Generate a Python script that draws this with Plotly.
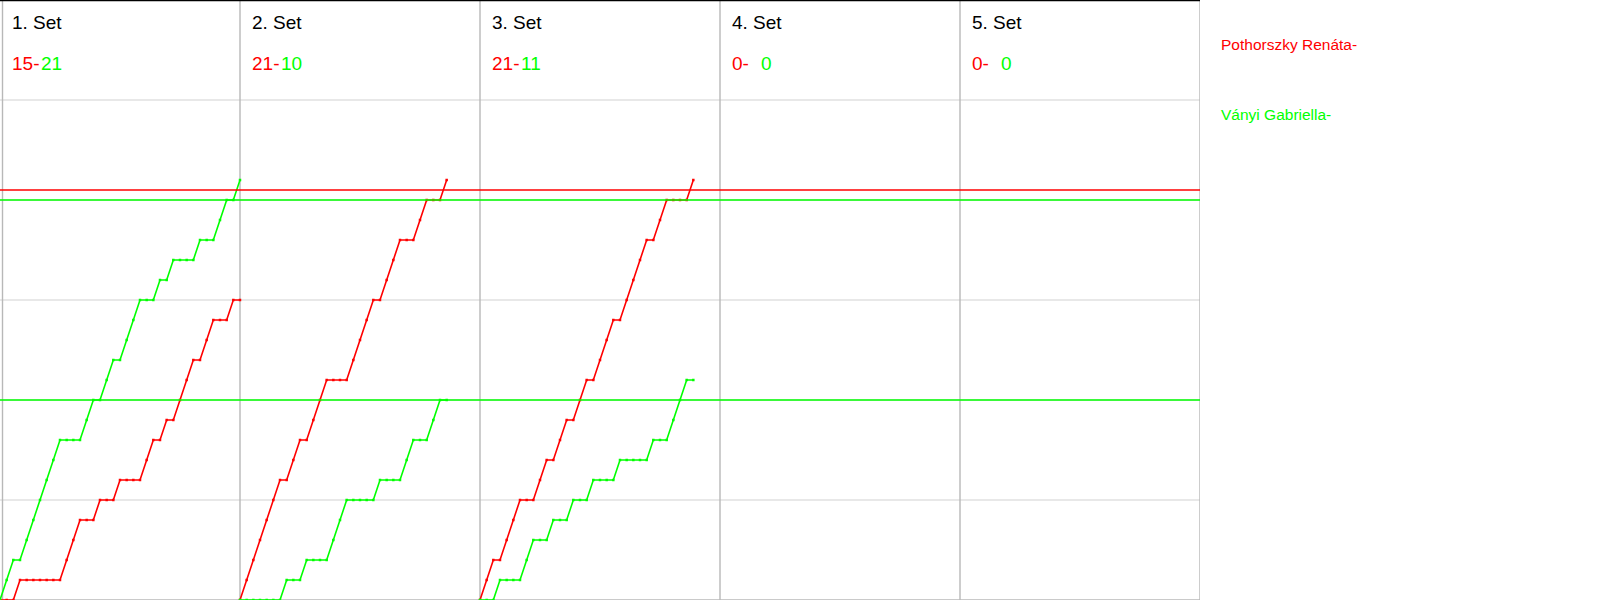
import plotly.graph_objects as go

# ---- data ----
set_titles = ["1. Set", "2. Set", "3. Set", "4. Set", "5. Set"]
red_final = ["15", "21", "21", "0", "0"]
green_final = ["21", "10", "11", "0", "0"]
player_red = "Pothorszky Renáta-"
player_green = "Ványi Gabriella-"

# cumulative score after each rally (index 0 = start of set)
set1_red = [0, 0, 0, 1, 1, 1, 1, 1, 1, 1, 2, 3, 4, 4, 4, 5, 5, 5, 6, 6, 6, 6, 7, 8, 8, 9, 9, 10, 11, 12, 12, 13, 14, 14, 14, 15, 15]
set1_green = [0, 1, 2, 2, 3, 4, 5, 6, 7, 8, 8, 8, 8, 9, 10, 10, 11, 12, 12, 13, 14, 15, 15, 15, 16, 16, 17, 17, 17, 17, 18, 18, 18, 19, 20, 20, 21]
set2_red = [0, 1, 2, 3, 4, 5, 6, 6, 7, 8, 8, 9, 10, 11, 11, 11, 11, 12, 13, 14, 15, 15, 16, 17, 18, 18, 18, 19, 20, 20, 20, 21]
set2_green = [0, 0, 0, 0, 0, 0, 0, 1, 1, 1, 2, 2, 2, 2, 3, 4, 5, 5, 5, 5, 5, 6, 6, 6, 6, 7, 8, 8, 8, 9, 10, 10]
set3_red = [0, 1, 2, 2, 3, 4, 5, 5, 5, 6, 7, 7, 8, 9, 9, 10, 11, 11, 12, 13, 14, 14, 15, 16, 17, 18, 18, 19, 20, 20, 20, 20, 21]
set3_green = [0, 0, 0, 1, 1, 1, 1, 2, 3, 3, 3, 4, 4, 4, 5, 5, 5, 6, 6, 6, 6, 7, 7, 7, 7, 7, 8, 8, 8, 9, 10, 11, 11]

red_sets = [set1_red, set2_red, set3_red]
green_sets = [set1_green, set2_green, set3_green]

rallies_per_panel = 36
n_panels = 5
max_score = 30
grid_scores = [5, 10, 15, 20, 25]
ref_red = [20.5]
ref_green = [20, 10]

RED = "#ff0000"
GREEN = "#00ff00"
FONT = "Liberation Sans, Arial, sans-serif"

fig = go.Figure()

for k, (rs, gs) in enumerate(zip(red_sets, green_sets)):
    off = k * rallies_per_panel
    for ys, col in ((rs, RED), (gs, GREEN)):
        fig.add_trace(go.Scatter(
            x=[off + i for i in range(len(ys))], y=ys,
            mode="lines+markers",
            line=dict(color=col, width=1.6),
            marker=dict(color=col, size=2.5, symbol="square"),
            showlegend=False, hoverinfo="skip", cliponaxis=False))

shapes = []
xmax = rallies_per_panel * n_panels
for s in grid_scores:
    shapes.append(dict(type="line", xref="x", yref="y", x0=0, x1=xmax, y0=s, y1=s,
                       line=dict(color="#d2d2d2", width=1.2), layer="below"))
for p in range(1, n_panels + 1):
    x = p * rallies_per_panel
    shapes.append(dict(type="line", xref="x", yref="y", x0=x, x1=x, y0=0, y1=max_score,
                       line=dict(color="#b8b8b8", width=1.4), layer="below"))
# left border, slightly inset
shapes.append(dict(type="line", xref="x", yref="y", xsizemode="pixel", xanchor=0,
                   x0=2.5, x1=2.5, y0=0, y1=max_score,
                   line=dict(color="#b8b8b8", width=1.4), layer="below"))
shapes.append(dict(type="line", xref="x", yref="y", x0=0, x1=xmax, y0=0, y1=0,
                   line=dict(color="#b8b8b8", width=1.4), layer="below"))
shapes.append(dict(type="line", xref="x", yref="y", x0=0, x1=xmax, y0=max_score, y1=max_score,
                   line=dict(color="#000000", width=2.5)))
for s in ref_red:
    shapes.append(dict(type="line", xref="x", yref="y", x0=0, x1=xmax, y0=s, y1=s,
                       line=dict(color=RED, width=1.4)))
for s in ref_green:
    shapes.append(dict(type="line", xref="x", yref="y", x0=0, x1=xmax, y0=s, y1=s,
                       line=dict(color=GREEN, width=1.4)))

ann = []
for k in range(n_panels):
    off = k * rallies_per_panel
    ann.append(dict(x=off, y=1, xref="x", yref="paper", xanchor="left", yanchor="middle",
                    xshift=10, yshift=-22, text=set_titles[k], showarrow=False,
                    font=dict(family=FONT, size=19, color="#000000")))
    ann.append(dict(x=off, y=1, xref="x", yref="paper", xanchor="left", yanchor="middle",
                    xshift=10, yshift=-63, text=red_final[k] + "-", showarrow=False,
                    font=dict(family=FONT, size=19, color=RED)))
    ann.append(dict(x=off, y=1, xref="x", yref="paper", xanchor="left", yanchor="middle",
                    xshift=39, yshift=-63, text=green_final[k], showarrow=False,
                    font=dict(family=FONT, size=19, color=GREEN)))

ann.append(dict(x=xmax, y=1, xref="x", yref="paper", xanchor="left", yanchor="middle",
                xshift=19, yshift=-44, text=player_red, showarrow=False,
                font=dict(family=FONT, size=15.5, color=RED)))
ann.append(dict(x=xmax, y=1, xref="x", yref="paper", xanchor="left", yanchor="middle",
                xshift=19, yshift=-114, text=player_green, showarrow=False,
                font=dict(family=FONT, size=15.5, color=GREEN)))

fig.update_layout(
    width=1600, height=600,
    margin=dict(l=0, r=400, t=0, b=0, pad=0),
    paper_bgcolor="#ffffff", plot_bgcolor="#ffffff",
    xaxis=dict(range=[0, xmax], visible=False, fixedrange=True),
    yaxis=dict(range=[0, max_score], visible=False, fixedrange=True),
    shapes=shapes, annotations=ann,
)

fig.write_html("out.html", config={"displayModeBar": False},
               post_script="document.body.style.margin='0';document.body.style.overflow='hidden';")
